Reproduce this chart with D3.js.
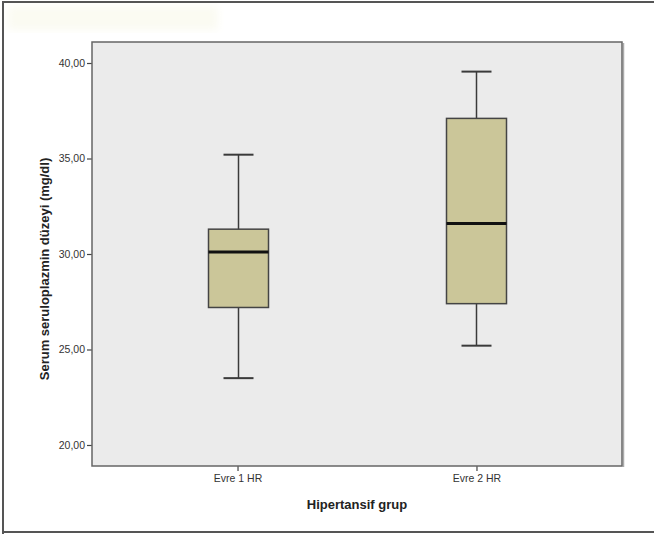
<!DOCTYPE html>
<html>
<head>
<meta charset="utf-8">
<script src="https://cdn.jsdelivr.net/npm/d3@7"></script>
<style>
  html, body { margin: 0; padding: 0; background: #fff; }
  svg { display: block; }
</style>
</head>
<body>
<script>
// ---- Data ----
const categories = ["Evre 1 HR", "Evre 2 HR"];
const whiskerLow  = [23.5, 25.2];
const q1Values    = [27.2, 27.4];
const medians     = [30.1, 31.6];
const q3Values    = [31.3, 37.1];
const whiskerHigh = [35.2, 39.55];
const yTickValues = [20, 25, 30, 35, 40];
const yTitle = "Serum seruloplazmin düzeyi (mg/dl)";
const xTitle = "Hipertansif grup";

const W = 654, H = 534;
const plot = { left: 92, right: 622, top: 42, bottom: 466 };

const svg = d3.select("body").append("svg").attr("width", W).attr("height", H);

// faint erased title area
const defs = svg.append("defs");
defs.append("filter").attr("id", "blur").append("feGaussianBlur").attr("stdDeviation", 4);
svg.append("rect").attr("x", 8).attr("y", 6).attr("width", 210).attr("height", 24)
  .attr("fill", "#fbfbf2").attr("filter", "url(#blur)");

// outer frame
svg.append("path").attr("d", `M3,534 L3,2 L656,2 M3,532 L656,532`)
  .attr("fill", "none").attr("stroke", "#555").attr("stroke-width", 2);

const y = d3.scaleLinear().domain([18.9, 41.1]).range([plot.bottom, plot.top]);
const x = d3.scalePoint().domain(categories).range([plot.left, plot.right]).padding(0.609);

// plot background
svg.append("rect").attr("x", plot.left).attr("y", plot.top)
  .attr("width", plot.right - plot.left).attr("height", plot.bottom - plot.top)
  .attr("fill", "#ebebeb");

const fmt = d => d.toFixed(2).replace(".", ",");

// axes
const yAxis = svg.append("g").attr("transform", `translate(${plot.left},0)`)
  .call(d3.axisLeft(y).tickValues(yTickValues).tickFormat(fmt).tickSize(5).tickPadding(2));
const xAxis = svg.append("g").attr("transform", `translate(0,${plot.bottom})`)
  .call(d3.axisBottom(x).tickSize(5).tickPadding(4));
[yAxis, xAxis].forEach(g => {
  g.select(".domain").remove();
  g.selectAll(".tick line").attr("stroke", "#444").attr("stroke-width", 1.2);
  g.selectAll(".tick text").attr("fill", "#333")
    .style("font-family", "Liberation Sans, Arial, sans-serif").style("font-size", "10.5px");
});

// box plots
const boxW = 60, capW = 30;
const data = categories.map((c, i) => ({
  c, lo: whiskerLow[i], q1: q1Values[i], med: medians[i], q3: q3Values[i], hi: whiskerHigh[i]
}));
const g = svg.append("g");
data.forEach(d => {
  const cx = Math.round(x(d.c)) + 0.5;
  const line = (x1, y1, x2, y2, sw, col) => g.append("line")
    .attr("x1", x1).attr("y1", y1).attr("x2", x2).attr("y2", y2)
    .attr("stroke", col || "#3a3a3a").attr("stroke-width", sw || 1.5);
  line(cx, y(d.hi), cx, y(d.q3));
  line(cx, y(d.q1), cx, y(d.lo));
  line(cx - capW / 2, y(d.hi), cx + capW / 2, y(d.hi), 2);
  line(cx - capW / 2, y(d.lo), cx + capW / 2, y(d.lo), 2);
  g.append("rect").attr("x", cx - boxW / 2).attr("y", y(d.q3))
    .attr("width", boxW).attr("height", y(d.q1) - y(d.q3))
    .attr("fill", "#cbc699").attr("stroke", "#444").attr("stroke-width", 1.5);
  line(cx - boxW / 2, y(d.med), cx + boxW / 2, y(d.med), 3, "#111");
});

// plot frame (with soft shadow on right)
svg.append("line").attr("x1", plot.right + 1.5).attr("y1", plot.top + 1).attr("x2", plot.right + 1.5).attr("y2", plot.bottom + 1)
  .attr("stroke", "#aaa").attr("stroke-width", 1.5);
svg.append("rect").attr("x", plot.left).attr("y", plot.top)
  .attr("width", plot.right - plot.left).attr("height", plot.bottom - plot.top)
  .attr("fill", "none").attr("stroke", "#666").attr("stroke-width", 1.5);

// titles
svg.append("text").attr("x", (plot.left + plot.right) / 2).attr("y", 509)
  .attr("text-anchor", "middle").attr("fill", "#222")
  .style("font-family", "Liberation Sans, Arial, sans-serif").style("font-weight", "bold").style("font-size", "13px")
  .text(xTitle);
svg.append("text").attr("transform", `translate(49,${(plot.top + plot.bottom) / 2 + 15}) rotate(-90)`)
  .attr("text-anchor", "middle").attr("fill", "#222")
  .style("font-family", "Liberation Sans, Arial, sans-serif").style("font-weight", "bold").style("font-size", "13px")
  .text(yTitle);
</script>
</body>
</html>
